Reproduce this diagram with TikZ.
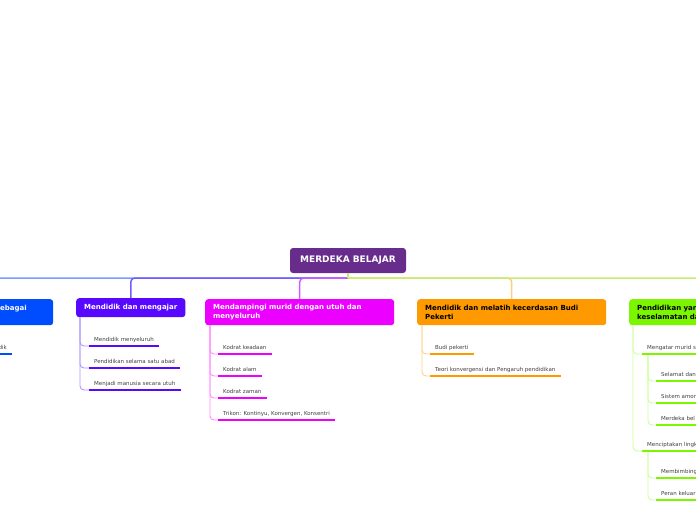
\documentclass[tikz,border=0pt]{standalone}
\usepackage{fontspec}
\setmainfont{DejaVu Sans}
\usepackage{tikz}
\usetikzlibrary{positioning}
\usepackage{xcolor}

\definecolor{rootpurple}{RGB}{104,44,140}
\definecolor{topicblue}{RGB}{0,76,255}
\definecolor{topicviolet}{RGB}{88,8,255}
\definecolor{topicpink}{RGB}{236,0,255}
\definecolor{topicorange}{RGB}{255,153,0}
\definecolor{topicgreen}{RGB}{124,246,0}
\definecolor{linkblue}{RGB}{120,156,255}
\definecolor{linkviolet}{RGB}{112,92,255}
\definecolor{linkpink}{RGB}{206,90,255}
\definecolor{linkorange}{RGB}{255,204,130}
\definecolor{linkgreen}{RGB}{198,236,112}
\definecolor{softviolet}{RGB}{176,148,255}
\definecolor{softpink}{RGB}{255,140,255}
\definecolor{softorange}{RGB}{255,208,140}
\definecolor{softgreen}{RGB}{204,255,150}

\begin{document}
\begin{tikzpicture}[x=1pt,y=-1pt,
  root/.style={fill=rootpurple, text=white, rounded corners=3pt,
    minimum width=116pt, minimum height=25pt,
    font=\bfseries\fontsize{9}{10}\selectfont},
  topic/.style={fill=#1, rounded corners=3pt, anchor=north west,
    inner xsep=8pt, inner ysep=3pt, align=left,
    font=\bfseries\fontsize{7}{9.5}\selectfont},
  widetopic/.style={topic=#1, text width=173pt, minimum height=26pt},
  leaf/.style={anchor=south west, inner xsep=5pt, inner ysep=3.5pt,
    text depth=1pt, text=black!75, font=\fontsize{5.5}{6.5}\selectfont},
  ul/.style={draw=#1, line width=2.4pt},
  link/.style={draw=#1, line width=1.5pt, rounded corners=4pt},
  branch/.style={draw=#1, line width=0.9pt, rounded corners=4pt}]

\useasboundingbox (0,0) rectangle (696,520);
\clip (0,0) rectangle (696,520);

% centre
\node[root] (root) at (348,260.5) {MERDEKA BELAJAR};
\coordinate (hub) at (348,278);

% main topics
\node[topic=topicblue, text=white, text width=45pt, minimum height=26pt] (b1) at (-8,299) {ebagai\\\mbox{}};
\coordinate (b1top) at (-42,299);
\node[topic=topicviolet, text=white, minimum height=19pt] (b2) at (76,298) {Mendidik dan mengajar};
\node[widetopic=topicpink, text=white] (b3) at (205,299) {Mendampingi murid dengan utuh dan\\menyeluruh};
\node[widetopic=topicorange, text=black] (b4) at (417,299) {Mendidik dan melatih kecerdasan Budi\\Pekerti};
\node[widetopic=topicgreen, text=black] (b5) at (629,299) {Pendidikan yan\\keselamatan da};

% links from the centre
\draw[link=linkblue] (hub) -| (b1top);
\draw[link=linkviolet] (hub) -| (b2.north);
\draw[link=linkpink] (hub) -| (b3.north);
\draw[link=linkorange] (hub) -| (b4.north);
\draw[link=linkgreen] (hub) -| (b5.north);
\draw[link=linkgreen] (root.south) -- (hub);

% blue
\node[leaf, anchor=south east] (c11) at (12,354) {dik};
\draw[ul=topicblue] (c11.south west) -- (c11.south east);

% violet
\node[leaf] (c21) at (89,346) {Mendidik menyeluruh};
\node[leaf] (c22) at (89,368) {Pendidikan selama satu abad};
\node[leaf] (c23) at (89,390) {Menjadi manusia secara utuh};
\foreach \n in {c21,c22,c23} {
  \draw[branch=softviolet] ([xshift=4pt]b2.south west) |- (\n.south west);
  \draw[ul=topicviolet] (\n.south west) -- (\n.south east);
}

% pink
\node[leaf] (c31) at (218,354) {Kodrat keadaan};
\node[leaf] (c32) at (218,376) {Kodrat alam};
\node[leaf] (c33) at (218,398) {Kodrat zaman};
\node[leaf] (c34) at (218,420) {Trikon: Kontinyu, Konvergen, Konsentri};
\foreach \n in {c31,c32,c33,c34} {
  \draw[branch=softpink] ([xshift=5pt]b3.south west) |- (\n.south west);
  \draw[ul=topicpink] (\n.south west) -- (\n.south east);
}

% orange
\node[leaf] (c41) at (430,354) {Budi pekerti};
\node[leaf] (c42) at (430,376) {Teori konvergensi dan Pengaruh pendidikan};
\foreach \n in {c41,c42} {
  \draw[branch=softorange] ([xshift=5pt]b4.south west) |- (\n.south west);
  \draw[ul=topicorange] (\n.south west) -- (\n.south east);
}

% green
\node[leaf] (g1) at (642,354) {Mengatar murid s};
\node[leaf] (g11) at (656,381) {Selamat dan};
\node[leaf] (g12) at (656,403) {Sistem amor};
\node[leaf] (g13) at (656,425) {Merdeka bel};
\node[leaf] (g2) at (642,451) {Menciptakan lingk};
\node[leaf] (g21) at (656,478) {Membimbing};
\node[leaf] (g22) at (656,500) {Peran keluar};
\foreach \n in {g1,g2}
  \draw[branch=softgreen] ([xshift=4pt]b5.south west) |- (\n.south west);
\foreach \n in {g11,g12,g13}
  \draw[branch=softgreen] ([xshift=6pt]g1.south west) |- (\n.south west);
\foreach \n in {g21,g22}
  \draw[branch=softgreen] ([xshift=6pt]g2.south west) |- (\n.south west);
\foreach \n in {g1,g11,g12,g13,g2,g21,g22}
  \draw[ul=topicgreen] (\n.south west) -- (\n.south east);

\end{tikzpicture}
\end{document}
